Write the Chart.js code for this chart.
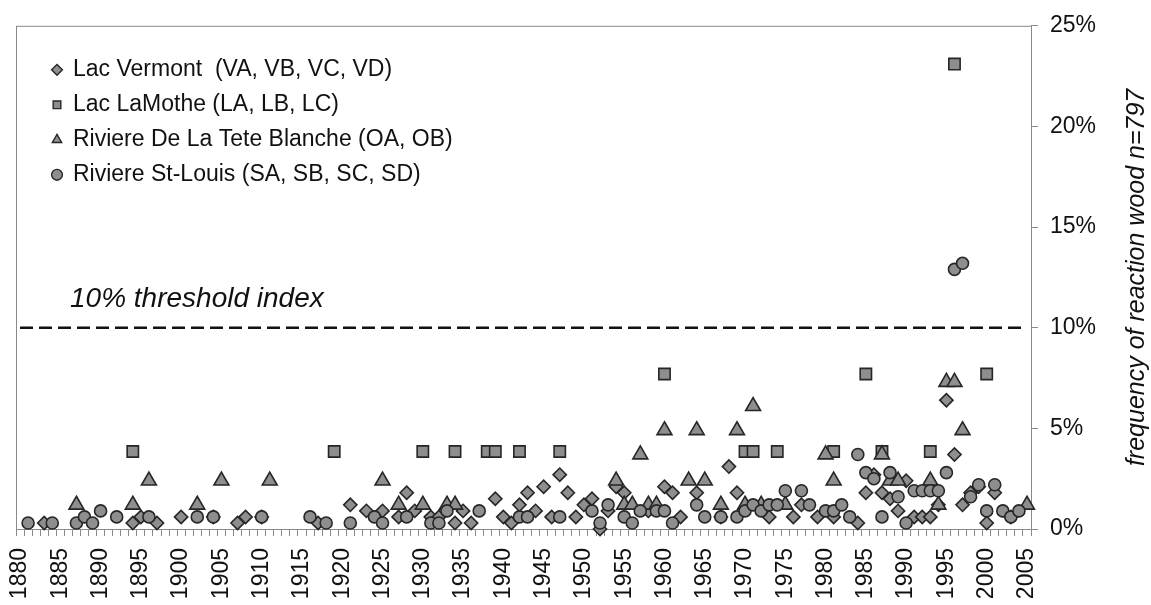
<!DOCTYPE html>
<html>
<head>
<meta charset="utf-8">
<script src="https://cdn.jsdelivr.net/npm/chart.js@4.4.0/dist/chart.umd.min.js"></script>
<style>
  html, body { margin: 0; padding: 0; background: #fff; }
  #wrap { width: 1151px; height: 605px; }
</style>
</head>
<body>
<div id="wrap"><canvas id="myChart"></canvas></div>
<script>
// one category per year, 1880 - 2005
var years = [];
for (var yr = 1880; yr <= 2005; yr++) years.push(yr);

var yTicks = [0, 5, 10, 15, 20, 25];
var threshold = 10;

// [year, % of trees with reaction wood]
var vermont = [
  [1883, 0.3], [1894, 0.3], [1895, 0.6], [1897, 0.3], [1900, 0.6], [1904, 0.6],
  [1907, 0.3], [1908, 0.6], [1910, 0.6], [1917, 0.3], [1921, 1.2], [1923, 0.9],
  [1925, 0.9], [1927, 0.6], [1928, 1.8], [1929, 0.9], [1931, 0.6], [1932, 0.6],
  [1934, 0.3], [1935, 0.9], [1936, 0.3], [1939, 1.5], [1940, 0.6], [1941, 0.3],
  [1942, 1.2], [1943, 1.8], [1944, 0.9], [1945, 2.1], [1946, 0.6], [1947, 2.7],
  [1948, 1.8], [1949, 0.6], [1950, 1.2], [1951, 1.5], [1952, 0.0], [1953, 0.9],
  [1954, 2.1], [1955, 1.8], [1958, 0.9], [1960, 2.1], [1961, 1.8], [1962, 0.6],
  [1964, 1.8], [1967, 0.6], [1968, 3.1], [1969, 1.8], [1973, 0.6], [1976, 0.6],
  [1977, 1.2], [1979, 0.6], [1981, 0.6], [1984, 0.3], [1985, 1.8], [1986, 2.7],
  [1987, 1.8], [1988, 1.5], [1989, 0.9], [1990, 2.4], [1991, 0.6], [1992, 0.6],
  [1993, 0.6], [1994, 1.2], [1995, 6.4], [1996, 3.7], [1997, 1.2], [1998, 1.8],
  [1999, 2.1], [2000, 0.3], [2001, 1.8], [2003, 0.6]
];

var lamothe = [
  [1894, 3.85], [1919, 3.85], [1930, 3.85], [1934, 3.85], [1938, 3.85], [1939, 3.85],
  [1942, 3.85], [1947, 3.85], [1960, 7.7], [1970, 3.85], [1971, 3.85], [1974, 3.85],
  [1981, 3.85], [1985, 7.7], [1987, 3.85], [1993, 3.85], [1996, 23.1], [2000, 7.7]
];

var teteBlanche = [
  [1887, 1.2], [1894, 1.2], [1896, 2.4], [1902, 1.2], [1905, 2.4], [1911, 2.4],
  [1925, 2.4], [1927, 1.2], [1930, 1.2], [1933, 1.2], [1934, 1.2], [1954, 2.4],
  [1955, 1.2], [1956, 1.2], [1957, 3.7], [1958, 1.2], [1959, 1.2], [1960, 4.9],
  [1963, 2.4], [1964, 4.9], [1965, 2.4], [1967, 1.2], [1969, 4.9], [1970, 1.2],
  [1971, 6.1], [1972, 1.2], [1975, 1.2], [1980, 3.7], [1981, 2.4], [1987, 3.7],
  [1988, 2.4], [1989, 2.4], [1993, 2.4], [1994, 1.2], [1995, 7.3], [1996, 7.3],
  [1997, 4.9], [2005, 1.2]
];

var stLouis = [
  [1881, 0.3], [1884, 0.3], [1887, 0.3], [1888, 0.6], [1889, 0.3], [1890, 0.9],
  [1892, 0.6], [1896, 0.6], [1902, 0.6], [1904, 0.6], [1910, 0.6], [1916, 0.6],
  [1918, 0.3], [1921, 0.3], [1924, 0.6], [1925, 0.3], [1928, 0.6], [1931, 0.3],
  [1932, 0.3], [1933, 0.9], [1937, 0.9], [1942, 0.6], [1943, 0.6], [1947, 0.6],
  [1951, 0.9], [1952, 0.3], [1953, 1.2], [1955, 0.6], [1956, 0.3], [1957, 0.9],
  [1959, 0.9], [1960, 0.9], [1961, 0.3], [1964, 1.2], [1965, 0.6], [1967, 0.6],
  [1969, 0.6], [1970, 0.9], [1971, 1.2], [1972, 0.9], [1973, 1.2], [1974, 1.2],
  [1975, 1.9], [1977, 1.9], [1978, 1.2], [1980, 0.9], [1981, 0.9], [1982, 1.2],
  [1983, 0.6], [1984, 3.7], [1985, 2.8], [1986, 2.5], [1987, 0.6], [1988, 2.8],
  [1989, 1.6], [1990, 0.3], [1991, 1.9], [1992, 1.9], [1993, 1.9], [1994, 1.9],
  [1995, 2.8], [1996, 12.9], [1997, 13.2], [1998, 1.6], [1999, 2.2], [2000, 0.9],
  [2001, 2.2], [2002, 0.9], [2003, 0.6], [2004, 0.9]
];

var seriesNames = [
  "Lac Vermont  (VA, VB, VC, VD)",
  "Lac LaMothe (LA, LB, LC)",
  "Riviere De La Tete Blanche (OA, OB)",
  "Riviere St-Louis (SA, SB, SC, SD)"
];

var FONT = "'Liberation Sans', Arial, sans-serif";
var markFill = "#8e8e8e";
var markEdge = "#262626";
var axisGrey = "#8a8a8a";

function toPoints(rows) {
  return rows.map(function (r) { return {x: r[0], y: r[1]}; });
}

function markerSet(label, rows, style, radius, order) {
  return {
    label: label,
    data: toPoints(rows),
    pointStyle: style,
    pointRadius: radius,
    backgroundColor: markFill,
    borderColor: markEdge,
    borderWidth: 1.6,
    order: order,
    clip: false
  };
}

var datasets = [
  markerSet(seriesNames[0], vermont, "rectRot", 6.6, 4),
  markerSet(seriesNames[1], lamothe, "rect", 8, 3),
  markerSet(seriesNames[2], teteBlanche, "triangle", 8.6, 2),
  markerSet(seriesNames[3], stLouis, "circle", 6, 1),
  {
    type: "line",
    label: "threshold",
    data: [{x: years[0], y: threshold}, {x: years[years.length - 1], y: threshold}],
    borderColor: "#111",
    borderWidth: 2.6,
    borderDash: [13, 6],
    pointRadius: 0,
    order: 5
  }
];

// box round the plot area
var frame = {
  id: "frame",
  beforeDatasetsDraw: function (chart) {
    var a = chart.chartArea, ctx = chart.ctx;
    ctx.save();
    ctx.strokeStyle = axisGrey;
    ctx.lineWidth = 1;
    ctx.strokeRect(a.left + 0.5, a.top + 0.5, a.right - a.left, a.bottom - a.top);
    ctx.restore();
  }
};

// legend in the top-left corner, threshold caption, right axis title
var notes = {
  id: "notes",
  afterDraw: function (chart) {
    var ctx = chart.ctx, a = chart.chartArea;
    var yScale = chart.scales.y;
    ctx.save();
    ctx.fillStyle = "#111";
    ctx.textBaseline = "middle";

    ctx.font = "23px " + FONT;
    for (var i = 0; i < 4; i++) {
      var ds = chart.data.datasets[i];
      var cy = a.top + 44 + i * 35;
      ctx.fillStyle = markFill;
      ctx.strokeStyle = markEdge;
      ctx.lineWidth = 1.4;
      Chart.helpers.drawPoint(ctx, {pointStyle: ds.pointStyle, radius: 5.4, borderWidth: 1.4}, a.left + 41, cy);
      ctx.fillStyle = "#111";
      ctx.textAlign = "left";
      ctx.fillText(ds.label, a.left + 57, cy);
    }

    ctx.font = "italic 28px " + FONT;
    ctx.textAlign = "left";
    ctx.fillText("10% threshold index", a.left + 54, yScale.getPixelForValue(threshold) - 29);

    ctx.translate(1137, (a.top + a.bottom) / 2);
    ctx.rotate(-Math.PI / 2);
    ctx.textAlign = "center";
    ctx.font = "italic 25px " + FONT;
    ctx.fillText("frequency of reaction wood n=797", 0, 0);
    ctx.restore();
  }
};

new Chart("myChart", {
  type: "scatter",
  data: {labels: years, datasets: datasets},
  options: {
    responsive: true,
    maintainAspectRatio: false,
    animation: false,
    layout: {padding: {left: 16, top: 23, right: 0, bottom: 0}},
    plugins: {legend: {display: false}, tooltip: {enabled: false}},
    scales: {
      x: {
        type: "category",
        offset: true,
        afterFit: function (s) { s.height = 76; },
        grid: {offset: true, drawOnChartArea: false, tickLength: 7, color: axisGrey},
        border: {color: axisGrey},
        ticks: {
          autoSkip: false,
          minRotation: 90,
          maxRotation: 90,
          padding: 12,
          color: "#111",
          font: {family: FONT, size: 23},
          callback: function (value) {
            var y = years[value];
            return y % 5 === 0 ? String(y) : "";
          }
        }
      },
      y: {
        position: "right",
        min: 0,
        max: 25,
        afterFit: function (s) { s.width = 120; },
        afterBuildTicks: function (s) {
          s.ticks = yTicks.map(function (v) { return {value: v}; });
        },
        grid: {drawOnChartArea: false, tickLength: 7, color: axisGrey},
        border: {color: axisGrey},
        ticks: {
          padding: 12,
          color: "#111",
          font: {family: FONT, size: 23},
          callback: function (v) { return v + "%"; }
        }
      }
    }
  },
  plugins: [frame, notes]
});
</script>
</body>
</html>
